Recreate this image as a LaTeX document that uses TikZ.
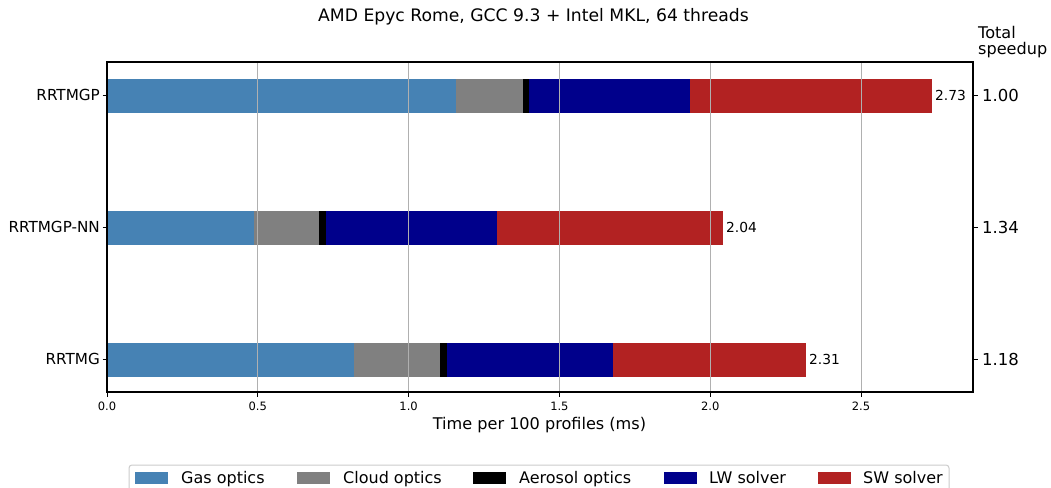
\documentclass[tikz,border=0pt]{standalone}
\usepackage{fontspec}
\setmainfont{DejaVu Sans}
\definecolor{gasc}{RGB}{70,130,180}
\definecolor{cloudc}{RGB}{128,128,128}
\definecolor{lwc}{RGB}{0,0,139}
\definecolor{swc}{RGB}{178,34,34}
\definecolor{gridc}{RGB}{176,176,176}
\definecolor{legc}{RGB}{204,204,204}
\begin{document}
\begin{tikzpicture}[x=1bp,y=-1bp,
  lbl/.style={inner sep=0pt, font=\fontsize{16.1bp}{19bp}\selectfont},
  ttl/.style={inner sep=0pt, font=\fontsize{17.2bp}{20bp}\selectfont},
  ytick/.style={inner sep=0pt, anchor=base east, font=\fontsize{15.2bp}{17bp}\selectfont},
  rtick/.style={inner sep=0pt, anchor=base west, font=\fontsize{16.5bp}{19bp}\selectfont},
  xtick/.style={inner sep=0pt, anchor=base, font=\fontsize{11.5bp}{13bp}\selectfont},
  val/.style={inner sep=0pt, anchor=base west, font=\fontsize{13.8bp}{16bp}\selectfont},
  gridline/.style={draw=gridc, line width=1bp},
  tickmark/.style={draw=black, line width=1bp},
  legtext/.style={inner sep=0pt, anchor=base west, font=\fontsize{16bp}{19bp}\selectfont}]
\useasboundingbox (0,0) rectangle (1051,488);
\clip (0,0) rectangle (1051,488);
\fill[white] (0,0) rectangle (1051,488);
% bars: RRTMGP
\fill[gasc]   (107,79) rectangle (456,113);
\fill[cloudc] (456,79) rectangle (523,113);
\fill[black]  (523,79) rectangle (529,113);
\fill[lwc]    (529,79) rectangle (690,113);
\fill[swc]    (690,79) rectangle (932,113);
% RRTMGP-NN
\fill[gasc]   (107,211) rectangle (254,245);
\fill[cloudc] (254,211) rectangle (319,245);
\fill[black]  (319,211) rectangle (326,245);
\fill[lwc]    (326,211) rectangle (497,245);
\fill[swc]    (497,211) rectangle (723,245);
% RRTMG
\fill[gasc]   (107,343) rectangle (354,377);
\fill[cloudc] (354,343) rectangle (440,377);
\fill[black]  (440,343) rectangle (447,377);
\fill[lwc]    (447,343) rectangle (613,377);
\fill[swc]    (613,343) rectangle (806,377);
% grid
\foreach \gx in {257.8,408.6,559.4,710.2,861.0}
  \draw[gridline] (\gx,62) -- (\gx,392);
% frame
\draw[line width=1.1bp] (107,62) rectangle (973,392);
% ticks
\foreach \ty in {96,228,360} {
  \draw[tickmark] (102.5,\ty) -- (107,\ty);
  \draw[tickmark] (973,\ty) -- (977.5,\ty);
}
\foreach \gx/\t [count=\i] in {107/0.0,257.8/0.5,408.6/1.0,559.4/1.5,710.2/2.0,861.0/2.5} {
  \draw[tickmark] (\gx,392) -- (\gx,396.5);
  \node[xtick] (xt\i) at (\gx,410.5) {\t};
}
% y labels
\node[ytick] (y1) at (100,101) {RRTMGP};
\node[ytick] (y2) at (100,233) {RRTMGP-NN};
\node[ytick] (y3) at (100,365) {RRTMG};
% right labels
\node[rtick] (r1) at (982,102) {1.00};
\node[rtick] (r2) at (982,234) {1.34};
\node[rtick] (r3) at (982,366) {1.18};
\node[lbl, anchor=base west] (tot) at (978,38.5) {Total};
\node[lbl, anchor=base west] (spd) at (978,54.5) {speedup};
% values
\node[val] (v1) at (935,100.5) {2.73};
\node[val] (v2) at (726,232.5) {2.04};
\node[val] (v3) at (809,364.5) {2.31};
% title and axis label
\node[ttl, anchor=base] (title) at (533.5,22) {AMD Epyc Rome, GCC 9.3 + Intel MKL, 64 threads};
\node[lbl, anchor=base] (xlab) at (539.5,429) {Time per 100 profiles (ms)};
% legend
\draw[draw=legc, fill=white, line width=1bp, rounded corners=3bp] (129,465) rectangle (949,505);
\fill[gasc]   (135,472) rectangle (168,484);
\node[legtext] (l1) at (181,483) {Gas optics};
\fill[cloudc] (297,472) rectangle (330,484);
\node[legtext] (l2) at (343,483) {Cloud optics};
\fill[black]  (473,472) rectangle (506,484);
\node[legtext] (l3) at (519,483) {Aerosol optics};
\fill[lwc]    (664,472) rectangle (697,484);
\node[legtext] (l4) at (709,483) {LW solver};
\fill[swc]    (818,472) rectangle (851,484);
\node[legtext] (l5) at (863,483) {SW solver};
\end{tikzpicture}
\end{document}
